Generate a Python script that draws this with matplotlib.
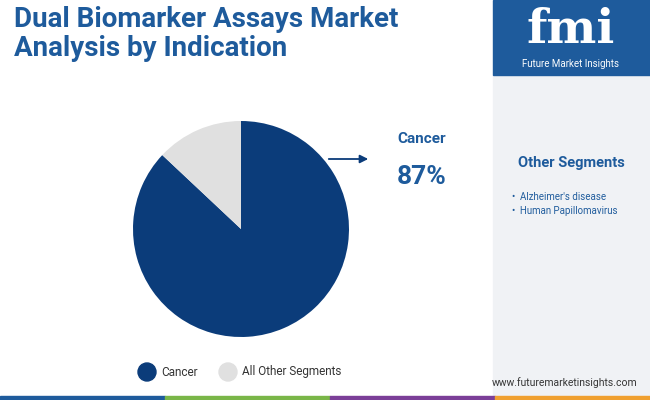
import matplotlib
matplotlib.use("Agg")
import matplotlib.pyplot as plt
from matplotlib.patches import Rectangle, Ellipse

categories = ["Cancer", "All Other Segments"]
values = [87, 13]
colors = ["#0b3c7a", "#e0e0e0"]
other_segments = ["Alzheimer's disease", "Human Papillomavirus"]

fig = plt.figure(figsize=(6.5, 4), dpi=100)
fig.patch.set_facecolor("white")
W, H = 650, 400
def X(x): return x / W
def Y(y): return 1 - y / H

fig.patches.append(Rectangle((X(493), Y(400)), X(157), 325 / H, transform=fig.transFigure, color="#f0f2f5", zorder=0))
fig.patches.append(Rectangle((X(493), Y(75)), X(157), 75 / H, transform=fig.transFigure, color="#1e5b9c", zorder=0))
for x0, x1, c in [(0, 165, "#1e5b9c"), (165, 330, "#7ab648"), (330, 495, "#7b3f98"), (495, 650, "#f0a030")]:
    fig.patches.append(Rectangle((X(x0), 0), X(x1 - x0), 4 / H, transform=fig.transFigure, color=c, zorder=1))

fig.text(X(14), Y(34), "Dual Biomarker Assays Market\nAnalysis by Indication", fontsize=20, fontweight="bold",
         color="#1e5b9c", va="center", ha="left", family="Roboto", linespacing=1.1)

fig.text(X(571), Y(30), "fmi", fontsize=34, fontweight="bold", color="white", ha="center", va="center", family="DejaVu Serif")
fig.text(X(571), Y(64), "Future Market Insights", fontsize=7, color="white", ha="center", va="center", family="Roboto")

ax = fig.add_axes([X(133), Y(337), X(216), 216 / H])
ax.pie(values, colors=colors, startangle=90, counterclock=False, radius=1)
ax.set_xlim(-1, 1); ax.set_ylim(-1, 1)
ax.set_aspect("equal")

fig.text(X(397), Y(139), categories[0], fontsize=11, fontweight="bold", color="#1e5b9c", ha="left", va="center", family="Roboto")
fig.text(X(397), Y(177), f"{values[0]}%", fontsize=19, fontweight="bold", color="#1e5b9c", ha="left", va="center", family="Roboto")
fig.add_artist(matplotlib.patches.FancyArrowPatch((X(326), Y(159)), (X(371), Y(159)), transform=fig.transFigure,
               arrowstyle="-|>", mutation_scale=12, color="#0b3c7a", lw=1.3))

fig.text(X(571), Y(163), "Other Segments", fontsize=10.5, fontweight="bold", color="#1e5b9c", ha="center", va="center", family="Roboto")
for i, s in enumerate(other_segments):
    fig.text(X(512), Y(197 + 14 * i), "•  " + s, fontsize=7, color="#1e5b9c", ha="left", va="center", family="Roboto")

fig.text(X(565), Y(383), "www.futuremarketinsights.com", fontsize=7.5, color="#333333", ha="center", va="center", family="Roboto")

for cat, c, x in zip(categories, colors, [147, 228]):
    fig.patches.append(Ellipse((X(x), Y(372)), 18 / W, 18 / H, transform=fig.transFigure, color=c))
    fig.text(X(x + 14), Y(372), cat, fontsize=8.5, color="#333333", ha="left", va="center", family="Roboto")

fig.savefig("out.png", dpi=100)
